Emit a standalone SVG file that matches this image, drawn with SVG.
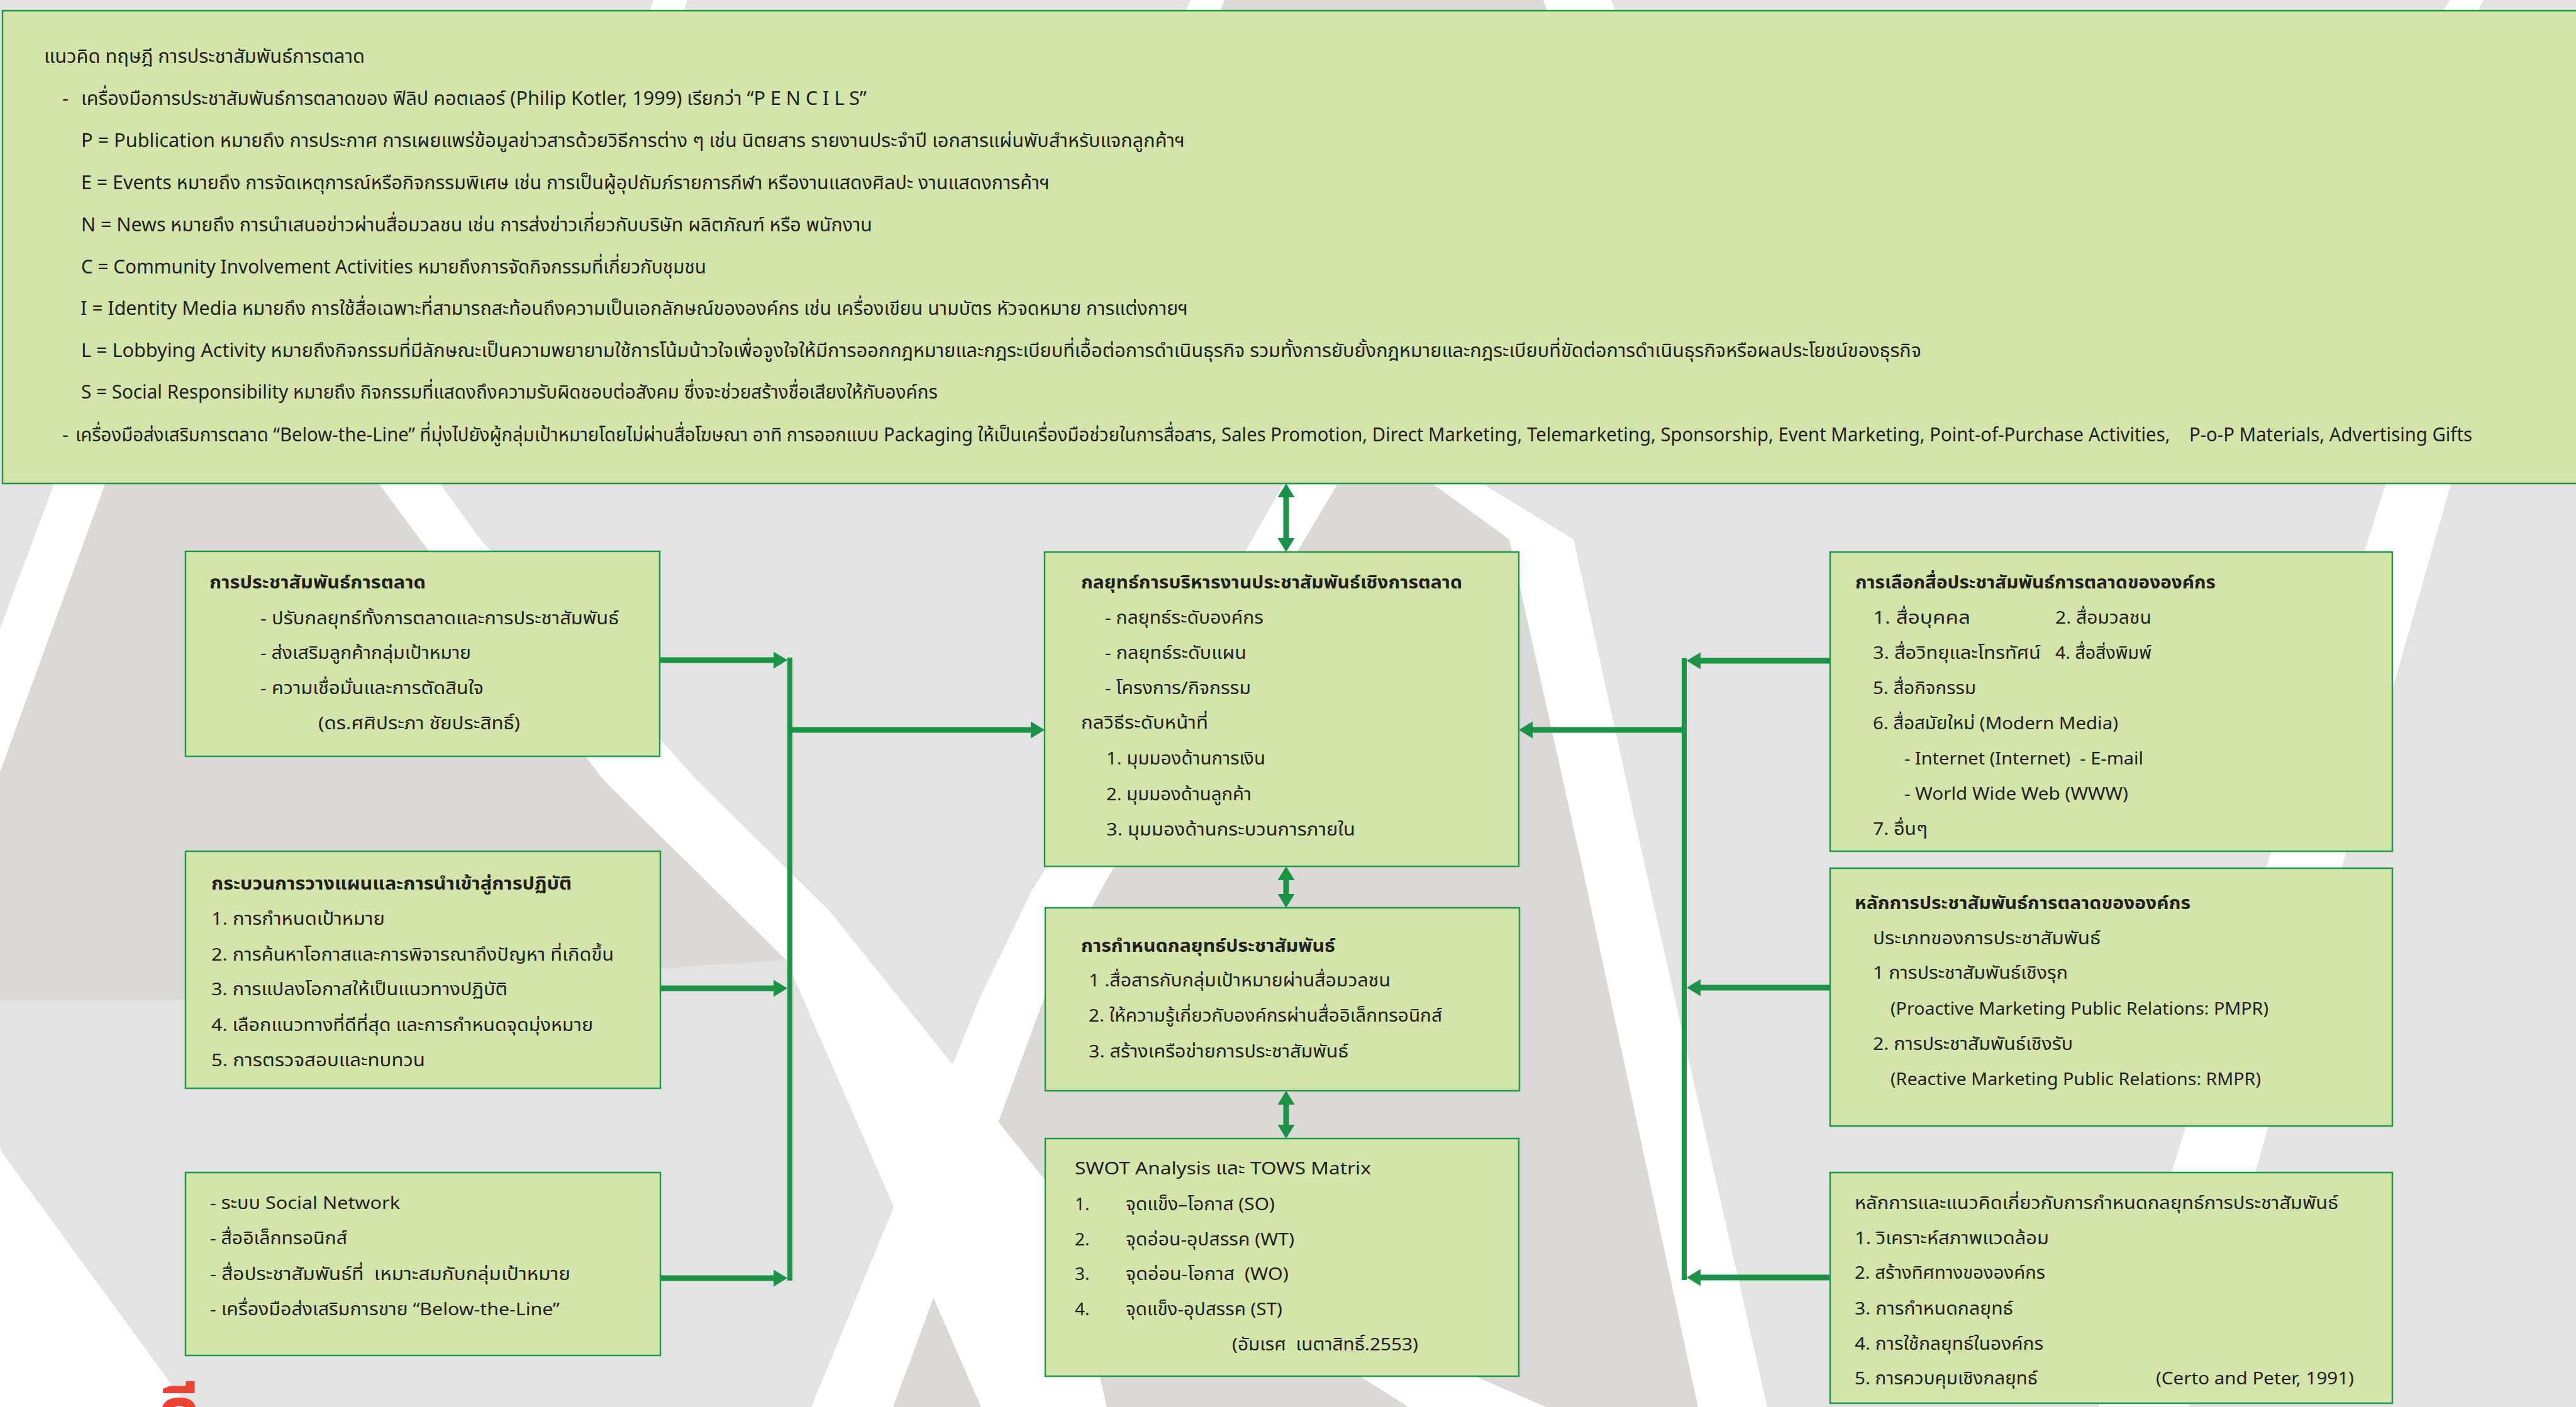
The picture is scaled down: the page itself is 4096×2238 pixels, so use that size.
<svg xmlns="http://www.w3.org/2000/svg" width="4096" height="2238" viewBox="0 0 4096 2238">
<defs>
<style>
.box{fill:#d4e5ac;stroke:#1f9a4a;stroke-width:2.5}
.t{font-family:"Noto Sans Thai","Leelawadee UI","Open Sans","Noto Sans",sans-serif;fill:#231f20;font-size:28px;white-space:pre}
.tt{font-size:31px}
.b{font-weight:bold}
.conn{stroke:#1b9245;stroke-width:9;fill:none}
.trunk{stroke:#1b9245;stroke-width:8;fill:none}
.w{fill:#ffffff}
.d{fill:#dad9d8}
</style>
<marker id="ah" viewBox="0 0 22 27" refX="0" refY="13.5" markerWidth="22" markerHeight="27" markerUnits="userSpaceOnUse" orient="auto-start-reverse">
<path d="M0,0 L22,13.5 L0,27 z" fill="#1b9245"/>
</marker>
</defs>

<g id="background">
<rect x="0" y="0" width="4096" height="2238" fill="#e3e3e3"/>
<polygon class="d" points="167,770 603,770 1250,1527 275,1591 0,1591 0,1100"/>
<polygon class="d" points="2126,771 2280,771 2400,858 2515,1375 2700,2238 1420,2238 1662,1583 1750,1416 2063,877"/>
<polygon class="d" points="1947,0 2454,0 2460,17 1940,17"/>
<polygon class="w" points="1039,0 1093,0 1088,17 1034,17"/>
<polygon class="w" points="1893,0 1947,0 1940,17 1886,17"/>
<polygon class="w" points="2454,0 2562,0 2568,17 2460,17"/>
<polygon class="w" points="3895,0 3949,0 3940,17 3886,17"/>
<polygon class="w" points="86,770 167,770 0,1228 0,1000"/>
<polygon class="w" points="603,770 700,770 764,858 1108,1241 1320,1450 1680,1900 1760,2238 1560,2238 1250,1527 960,1241 668,858"/>
<polygon class="w" points="2040,771 2126,771 2063,877 1750,1416 1662,1583 1420,2238 1290,2238 1560,1583 1641,1416 1980,877"/>
<polygon class="w" points="2280,771 2360,771 2502,858 2615,1375 2810,2238 2700,2238 2515,1375 2400,858"/>
<polygon class="w" points="3793,770 3897,770 3480,2238 3337,2238"/>
<polygon class="w" points="0,1825 3,1833 299,2238 0,2238"/>
<polygon class="w" points="2162,2189 2345,2189 2458,2238 2240,2238"/>
</g>

<g id="top-box">
<rect class="box" x="4" y="17" width="4100" height="752"/>
<text class="t tt" x="70" y="100" textLength="510" lengthAdjust="spacingAndGlyphs">แนวคิด ทฤษฎี การประชาสัมพันธ์การตลาด</text>
<text class="t tt" x="99" y="167">-</text>
<text class="t tt" x="129" y="167" textLength="1249" lengthAdjust="spacingAndGlyphs">เครื่องมือการประชาสัมพันธ์การตลาดของ ฟิลิป คอตเลอร์ (Philip Kotler, 1999) เรียกว่า “P E N C I L S”</text>
<text class="t tt" x="129" y="234" textLength="1755" lengthAdjust="spacingAndGlyphs">P = Publication หมายถึง การประกาศ การเผยแพร่ข้อมูลข่าวสารด้วยวิธีการต่าง ๆ เช่น นิตยสาร รายงานประจำปี เอกสารแผ่นพับสำหรับแจกลูกค้าฯ</text>
<text class="t tt" x="129" y="301" textLength="1540" lengthAdjust="spacingAndGlyphs">E = Events หมายถึง การจัดเหตุการณ์หรือกิจกรรมพิเศษ เช่น การเป็นผู้อุปถัมภ์รายการกีฬา หรืองานแสดงศิลปะ งานแสดงการค้าฯ</text>
<text class="t tt" x="129" y="368" textLength="1258" lengthAdjust="spacingAndGlyphs">N = News หมายถึง การนำเสนอข่าวผ่านสื่อมวลชน เช่น การส่งข่าวเกี่ยวกับบริษัท ผลิตภัณฑ์ หรือ พนักงาน</text>
<text class="t tt" x="129" y="435" textLength="994" lengthAdjust="spacingAndGlyphs">C = Community Involvement Activities หมายถึงการจัดกิจกรรมที่เกี่ยวกับชุมชน</text>
<text class="t tt" x="128" y="501" textLength="1761" lengthAdjust="spacingAndGlyphs">I = Identity Media หมายถึง การใช้สื่อเฉพาะที่สามารถสะท้อนถึงความเป็นเอกลักษณ์ขององค์กร เช่น เครื่องเขียน นามบัตร หัวจดหมาย การแต่งกายฯ</text>
<text class="t tt" x="129" y="568" textLength="2926" lengthAdjust="spacingAndGlyphs">L = Lobbying Activity หมายถึงกิจกรรมที่มีลักษณะเป็นความพยายามใช้การโน้มน้าวใจเพื่อจูงใจให้มีการออกกฎหมายและกฎระเบียบที่เอื้อต่อการดำเนินธุรกิจ รวมทั้งการยับยั้งกฎหมายและกฎระเบียบที่ขัดต่อการดำเนินธุรกิจหรือผลประโยชน์ของธุรกิจ</text>
<text class="t tt" x="129" y="634" textLength="1362" lengthAdjust="spacingAndGlyphs">S = Social Responsibility หมายถึง กิจกรรมที่แสดงถึงความรับผิดชอบต่อสังคม ซึ่งจะช่วยสร้างชื่อเสียงให้กับองค์กร</text>
<text class="t tt" x="99" y="702">-</text>
<text class="t tt" x="120" y="702" textLength="3811" lengthAdjust="spacingAndGlyphs">เครื่องมือส่งเสริมการตลาด “Below-the-Line” ที่มุ่งไปยังผู้กลุ่มเป้าหมายโดยไม่ผ่านสื่อโฆษณา อาทิ การออกแบบ Packaging ให้เป็นเครื่องมือช่วยในการสื่อสาร, Sales Promotion, Direct Marketing, Telemarketing, Sponsorship, Event Marketing, Point-of-Purchase Activities,    P-o-P Materials, Advertising Gifts</text>
</g>

<g id="connectors">
<line class="trunk" x1="1256" y1="1046" x2="1256" y2="2037"/>
<line class="conn" x1="1050" y1="1050" x2="1230" y2="1050" marker-end="url(#ah)"/>
<line class="conn" x1="1050" y1="1572" x2="1230" y2="1572" marker-end="url(#ah)"/>
<line class="conn" x1="1050" y1="2033" x2="1230" y2="2033" marker-end="url(#ah)"/>
<line class="conn" x1="1256" y1="1161" x2="1639" y2="1161" marker-end="url(#ah)"/>
<line class="trunk" x1="2678" y1="1047" x2="2678" y2="2036"/>
<line class="conn" x1="2910" y1="1051" x2="2704" y2="1051" marker-end="url(#ah)"/>
<line class="conn" x1="2910" y1="1571" x2="2704" y2="1571" marker-end="url(#ah)"/>
<line class="conn" x1="2910" y1="2032" x2="2704" y2="2032" marker-end="url(#ah)"/>
<line class="conn" x1="2678" y1="1161" x2="2437" y2="1161" marker-end="url(#ah)"/>
<line class="conn" x1="2045" y1="791" x2="2045" y2="856" marker-start="url(#ah)" marker-end="url(#ah)"/>
<line class="conn" x1="2045" y1="1400" x2="2045" y2="1422" marker-start="url(#ah)" marker-end="url(#ah)"/>
<line class="conn" x1="2045" y1="1757" x2="2045" y2="1789" marker-start="url(#ah)" marker-end="url(#ah)"/>
</g>

<g id="node-pr-marketing">
<rect class="box" x="295" y="877" width="754" height="326"/>
<text class="t b" x="333" y="936" textLength="344" lengthAdjust="spacingAndGlyphs">การประชาสัมพันธ์การตลาด</text>
<text class="t" x="414" y="993" textLength="570" lengthAdjust="spacingAndGlyphs">- ปรับกลยุทธ์ทั้งการตลาดและการประชาสัมพันธ์</text>
<text class="t" x="414" y="1048" textLength="335" lengthAdjust="spacingAndGlyphs">- ส่งเสริมลูกค้ากลุ่มเป้าหมาย</text>
<text class="t" x="414" y="1104" textLength="355" lengthAdjust="spacingAndGlyphs">- ความเชื่อมั่นและการตัดสินใจ</text>
<text class="t" x="506" y="1160" textLength="321" lengthAdjust="spacingAndGlyphs">(ดร.ศศิประภา ชัยประสิทธิ์)</text>
</g>

<g id="node-planning">
<rect class="box" x="295" y="1354" width="755" height="377"/>
<text class="t b" x="336" y="1415" textLength="573" lengthAdjust="spacingAndGlyphs">กระบวนการวางแผนและการนำเข้าสู่การปฏิบัติ</text>
<text class="t" x="336" y="1471" textLength="276" lengthAdjust="spacingAndGlyphs">1. การกำหนดเป้าหมาย</text>
<text class="t" x="336" y="1528" textLength="640" lengthAdjust="spacingAndGlyphs">2. การค้นหาโอกาสและการพิจารณาถึงปัญหา ที่เกิดขึ้น</text>
<text class="t" x="336" y="1583" textLength="471" lengthAdjust="spacingAndGlyphs">3. การแปลงโอกาสให้เป็นแนวทางปฏิบัติ</text>
<text class="t" x="336" y="1640" textLength="607" lengthAdjust="spacingAndGlyphs">4. เลือกแนวทางที่ดีที่สุด และการกำหนดจุดมุ่งหมาย</text>
<text class="t" x="336" y="1696" textLength="340" lengthAdjust="spacingAndGlyphs">5. การตรวจสอบและทบทวน</text>
</g>

<g id="node-media-tools">
<rect class="box" x="295" y="1865" width="755" height="291"/>
<text class="t" x="334" y="1923" textLength="302" lengthAdjust="spacingAndGlyphs">- ระบบ Social Network</text>
<text class="t" x="334" y="1979" textLength="218" lengthAdjust="spacingAndGlyphs">- สื่ออิเล็กทรอนิกส์</text>
<text class="t" x="334" y="2036" textLength="573" lengthAdjust="spacingAndGlyphs">- สื่อประชาสัมพันธ์ที่  เหมาะสมกับกลุ่มเป้าหมาย</text>
<text class="t" x="334" y="2092" textLength="556" lengthAdjust="spacingAndGlyphs">- เครื่องมือส่งเสริมการขาย “Below-the-Line”</text>
</g>

<g id="node-strategy-mgmt">
<rect class="box" x="1661" y="878" width="754" height="500"/>
<text class="t b" x="1719" y="936" textLength="606" lengthAdjust="spacingAndGlyphs">กลยุทธ์การบริหารงานประชาสัมพันธ์เชิงการตลาด</text>
<text class="t" x="1757" y="992" textLength="252" lengthAdjust="spacingAndGlyphs">- กลยุทธ์ระดับองค์กร</text>
<text class="t" x="1757" y="1048" textLength="225" lengthAdjust="spacingAndGlyphs">- กลยุทธ์ระดับแผน</text>
<text class="t" x="1757" y="1104" textLength="232" lengthAdjust="spacingAndGlyphs">- โครงการ/กิจกรรม</text>
<text class="t" x="1719" y="1159" textLength="202" lengthAdjust="spacingAndGlyphs">กลวิธีระดับหน้าที่</text>
<text class="t" x="1759" y="1216" textLength="253" lengthAdjust="spacingAndGlyphs">1. มุมมองด้านการเงิน</text>
<text class="t" x="1759" y="1273" textLength="231" lengthAdjust="spacingAndGlyphs">2. มุมมองด้านลูกค้า</text>
<text class="t" x="1759" y="1329" textLength="396" lengthAdjust="spacingAndGlyphs">3. มุมมองด้านกระบวนการภายใน</text>
</g>

<g id="node-pr-strategy">
<rect class="box" x="1662" y="1444" width="754" height="291"/>
<text class="t b" x="1719" y="1514" textLength="404" lengthAdjust="spacingAndGlyphs">การกำหนดกลยุทธ์ประชาสัมพันธ์</text>
<text class="t" x="1731" y="1569" textLength="480" lengthAdjust="spacingAndGlyphs">1 .สื่อสารกับกลุ่มเป้าหมายผ่านสื่อมวลชน</text>
<text class="t" x="1731" y="1625" textLength="562" lengthAdjust="spacingAndGlyphs">2. ให้ความรู้เกี่ยวกับองค์กรผ่านสื่ออิเล็กทรอนิกส์</text>
<text class="t" x="1731" y="1682" textLength="413" lengthAdjust="spacingAndGlyphs">3. สร้างเครือข่ายการประชาสัมพันธ์</text>
</g>

<g id="node-swot">
<rect class="box" x="1662" y="1811" width="753" height="378"/>
<text class="t" x="1709" y="1868" textLength="471" lengthAdjust="spacingAndGlyphs">SWOT Analysis และ TOWS Matrix</text>
<text class="t" x="1709" y="1925">1.</text>
<text class="t" x="1790" y="1925" textLength="237" lengthAdjust="spacingAndGlyphs">จุดแข็ง–โอกาส (SO)</text>
<text class="t" x="1709" y="1981">2.</text>
<text class="t" x="1790" y="1981" textLength="268" lengthAdjust="spacingAndGlyphs">จุดอ่อน-อุปสรรค (WT)</text>
<text class="t" x="1709" y="2036">3.</text>
<text class="t" x="1790" y="2036" textLength="259" lengthAdjust="spacingAndGlyphs">จุดอ่อน-โอกาส  (WO)</text>
<text class="t" x="1709" y="2092">4.</text>
<text class="t" x="1790" y="2092" textLength="249" lengthAdjust="spacingAndGlyphs">จุดแข็ง-อุปสรรค (ST)</text>
<text class="t" x="1959" y="2148" textLength="296" lengthAdjust="spacingAndGlyphs">(อัมเรศ  เนตาสิทธิ์.2553)</text>
</g>

<g id="node-media-selection">
<rect class="box" x="2910" y="878" width="894" height="476"/>
<text class="t b" x="2950" y="936" textLength="573" lengthAdjust="spacingAndGlyphs">การเลือกสื่อประชาสัมพันธ์การตลาดขององค์กร</text>
<text class="t" x="2978" y="992" textLength="155" lengthAdjust="spacingAndGlyphs">1. สื่อบุคคล</text>
<text class="t" x="3268" y="992" textLength="153" lengthAdjust="spacingAndGlyphs">2. สื่อมวลชน</text>
<text class="t" x="2978" y="1048" textLength="267" lengthAdjust="spacingAndGlyphs">3. สื่อวิทยุและโทรทัศน์</text>
<text class="t" x="3268" y="1048" textLength="153" lengthAdjust="spacingAndGlyphs">4. สื่อสิ่งพิมพ์</text>
<text class="t" x="2978" y="1104" textLength="164" lengthAdjust="spacingAndGlyphs">5. สื่อกิจกรรม</text>
<text class="t" x="2978" y="1160" textLength="390" lengthAdjust="spacingAndGlyphs">6. สื่อสมัยใหม่ (Modern Media)</text>
<text class="t" x="3028" y="1216" textLength="380" lengthAdjust="spacingAndGlyphs">- Internet (Internet)  - E-mail</text>
<text class="t" x="3028" y="1272" textLength="356" lengthAdjust="spacingAndGlyphs">- World Wide Web (WWW)</text>
<text class="t" x="2978" y="1328" textLength="87" lengthAdjust="spacingAndGlyphs">7. อื่นๆ</text>
</g>

<g id="node-pr-principles">
<rect class="box" x="2910" y="1381" width="894" height="410"/>
<text class="t b" x="2949" y="1446" textLength="534" lengthAdjust="spacingAndGlyphs">หลักการประชาสัมพันธ์การตลาดขององค์กร</text>
<text class="t" x="2978" y="1502" textLength="362" lengthAdjust="spacingAndGlyphs">ประเภทของการประชาสัมพันธ์</text>
<text class="t" x="2978" y="1557" textLength="310" lengthAdjust="spacingAndGlyphs">1 การประชาสัมพันธ์เชิงรุก</text>
<text class="t" x="3006" y="1614" textLength="601" lengthAdjust="spacingAndGlyphs">(Proactive Marketing Public Relations: PMPR)</text>
<text class="t" x="2978" y="1670" textLength="318" lengthAdjust="spacingAndGlyphs">2. การประชาสัมพันธ์เชิงรับ</text>
<text class="t" x="3006" y="1726" textLength="589" lengthAdjust="spacingAndGlyphs">(Reactive Marketing Public Relations: RMPR)</text>
</g>

<g id="node-strategy-principles">
<rect class="box" x="2910" y="1865" width="894" height="367"/>
<text class="t" x="2949" y="1923" textLength="769" lengthAdjust="spacingAndGlyphs">หลักการและแนวคิดเกี่ยวกับการกำหนดกลยุทธ์การประชาสัมพันธ์</text>
<text class="t" x="2949" y="1979" textLength="309" lengthAdjust="spacingAndGlyphs">1. วิเคราะห์สภาพแวดล้อม</text>
<text class="t" x="2949" y="2034" textLength="303" lengthAdjust="spacingAndGlyphs">2. สร้างทิศทางขององค์กร</text>
<text class="t" x="2949" y="2091" textLength="252" lengthAdjust="spacingAndGlyphs">3. การกำหนดกลยุทธ์</text>
<text class="t" x="2949" y="2147" textLength="300" lengthAdjust="spacingAndGlyphs">4. การใช้กลยุทธ์ในองค์กร</text>
<text class="t" x="2949" y="2202" textLength="291" lengthAdjust="spacingAndGlyphs">5. การควบคุมเชิงกลยุทธ์</text>
<text class="t" x="3428" y="2202" textLength="315" lengthAdjust="spacingAndGlyphs">(Certo and Peter, 1991)</text>
</g>

<g id="red-title">
<text x="250" y="2285" font-family="Noto Sans Thai, Noto Sans, sans-serif" font-size="110" font-weight="bold" fill="#ea4335">ดี</text>
</g>
</svg>
